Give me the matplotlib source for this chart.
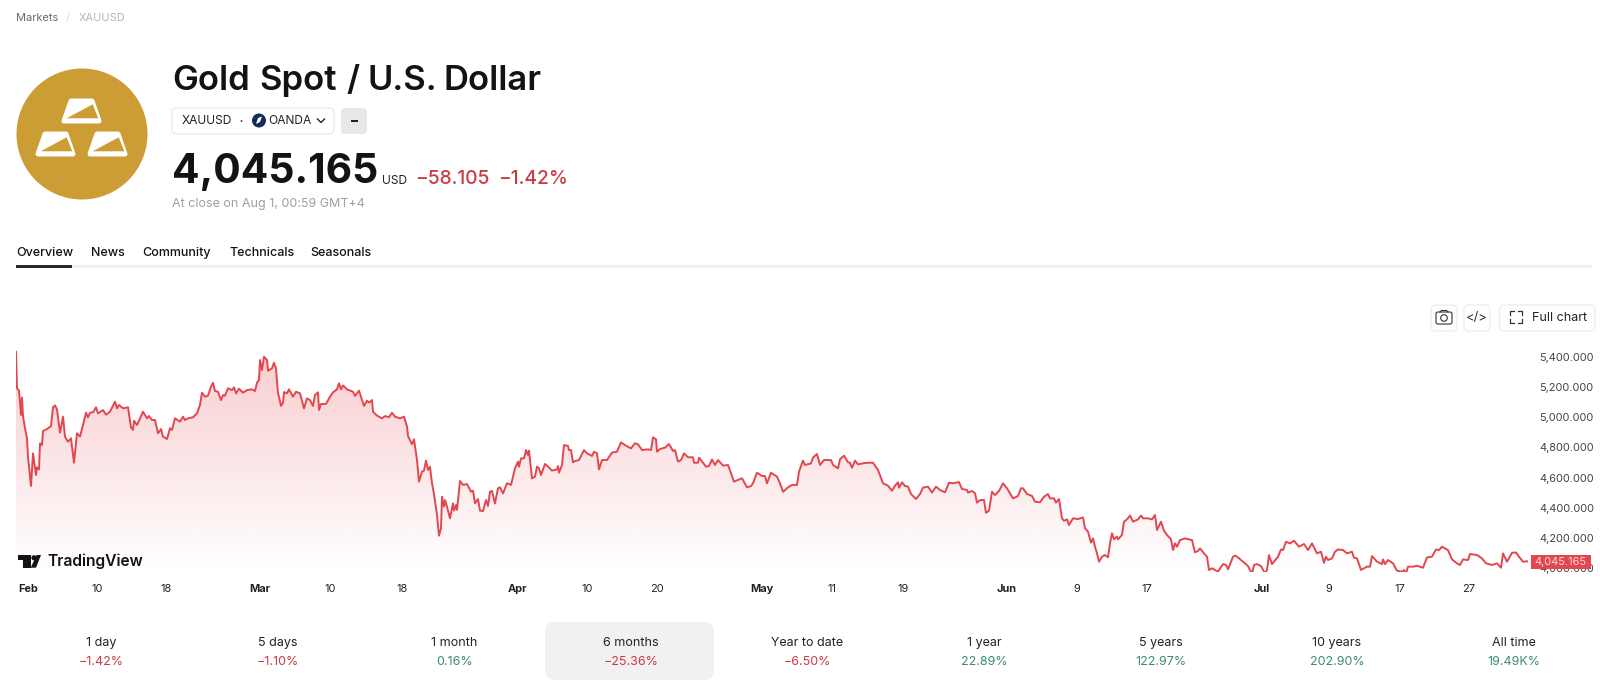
import numpy as np
import matplotlib
matplotlib.use("Agg")
import matplotlib.pyplot as plt
from matplotlib.patches import Circle, FancyBboxPatch, Polygon, Rectangle

plt.rcParams["font.family"] = ["Inter", "DejaVu Sans"]

# bars counted from the left edge of the chart, closing price in USD
bars = [
    0, 1, 3, 5, 6, 7, 9, 11, 12, 15, 17, 20, 21, 23, 24, 26, 27, 31, 35, 37,
    39, 41, 44, 47, 49, 52, 55, 58, 61, 64, 67, 70, 72, 74, 77, 80, 82, 87, 90, 94,
    99, 101, 103, 107, 112, 115, 117, 118, 121, 123, 127, 131, 133, 136, 139, 142, 145, 147, 151, 154,
    156, 159, 164, 167, 169, 172, 177, 181, 184, 186, 189, 192, 195, 197, 199, 202, 205, 207, 209, 212,
    216, 218, 220, 223, 227, 231, 236, 239, 241, 243, 244, 246, 248, 251, 252, 256, 258, 260, 262, 263,
    265, 267, 268, 271, 273, 277, 280, 284, 288, 291, 294, 297, 299, 302, 303, 305, 310, 314, 317, 321,
    323, 325, 327, 331, 337, 339, 343, 348, 351, 353, 356, 357, 361, 366, 369, 373, 376, 379, 384, 388,
    391, 392, 396, 398, 401, 403, 406, 408, 410, 412, 414, 416, 418, 421, 423, 425, 426, 428, 429, 431,
    434, 437, 438, 440, 441, 444, 447, 451, 455, 457, 459, 462, 464, 467, 470, 472, 474, 476, 479, 482,
    484, 487, 491, 495, 499, 502, 503, 505, 508, 510, 512, 513, 516, 519, 521, 523, 525, 529, 532, 536,
    541, 542, 543, 546, 548, 552, 553, 555, 557, 559, 563, 568, 571, 576, 578, 581, 583, 586, 591, 596,
    601, 605, 609, 615, 619, 622, 626, 632, 635, 637, 640, 641, 644, 649, 653, 657, 659, 662, 665, 668,
    672, 677, 678, 682, 683, 687, 690, 693, 696, 699, 702, 707, 712, 718, 726, 731, 735, 737, 741, 746,
    749, 751, 755, 761, 764, 767, 772, 776, 781, 783, 787, 789, 795, 797, 801, 804, 808, 815, 817, 822,
    824, 828, 832, 834, 836, 839, 842, 847, 852, 857, 862, 867, 872, 876, 879, 882, 883, 886, 889, 892,
    895, 900, 904, 907, 912, 916, 920, 924, 929, 933, 937, 943, 946, 951, 952, 956, 959, 961, 964, 968,
    970, 973, 976, 979, 983, 987, 991, 997, 1002, 1005, 1007, 1011, 1016, 1019, 1024, 1028, 1032, 1034, 1038, 1040,
    1043, 1046, 1048, 1051, 1053, 1057, 1062, 1067, 1069, 1072, 1075, 1077, 1079, 1081, 1083, 1086, 1089, 1092, 1094, 1096,
    1098, 1101, 1102, 1106, 1108, 1111, 1114, 1117, 1122, 1125, 1127, 1132, 1136, 1139, 1141, 1145, 1148, 1151, 1155, 1157,
    1159, 1161, 1164, 1169, 1176, 1179, 1182, 1184, 1188, 1191, 1193, 1196, 1199, 1202, 1207, 1210, 1212, 1217, 1219, 1221,
    1227, 1232, 1236, 1238, 1241, 1245, 1249, 1251, 1253, 1256, 1262, 1265, 1267, 1270, 1274, 1278, 1283, 1288, 1292, 1296,
    1301, 1305, 1308, 1310, 1312, 1316, 1319, 1322, 1327, 1331, 1336, 1338, 1341, 1345, 1351, 1354, 1356, 1361, 1366, 1367,
    1369, 1372, 1377, 1381, 1386, 1388, 1390, 1392, 1397, 1401, 1407, 1411, 1416, 1420, 1423, 1426, 1432, 1436, 1441, 1444,
    1447, 1452, 1454, 1461, 1466, 1470, 1476, 1481, 1485, 1487, 1491, 1496, 1500, 1503, 1507, 1511,
]
close = [
    5433, 5191, 5175, 5014, 5129, 5007, 4926, 4859, 4738, 4544, 4760, 4617, 4668, 4654, 4826, 4815, 4908, 4921, 4941, 5065,
    5078, 5051, 4897, 5003, 4871, 4837, 4860, 4698, 4893, 4871, 4948, 5029, 4999, 5029, 5032, 5065, 5025, 5047, 5016, 5036,
    5102, 5058, 5080, 5058, 5065, 4932, 4915, 4976, 4948, 4976, 5036, 4992, 5007, 4981, 4981, 4893, 4921, 4871, 4855, 4926,
    4915, 4992, 4970, 5003, 4981, 4992, 4999, 5025, 5080, 5162, 5135, 5142, 5202, 5228, 5173, 5168, 5113, 5146, 5142, 5191,
    5179, 5197, 5157, 5188, 5162, 5179, 5184, 5173, 5228, 5246, 5378, 5312, 5400, 5378, 5307, 5323, 5360, 5323, 5157, 5135,
    5074, 5096, 5166, 5157, 5184, 5135, 5168, 5157, 5058, 5124, 5113, 5074, 5146, 5164, 5047, 5087, 5087, 5135, 5164, 5184,
    5224, 5184, 5210, 5184, 5168, 5140, 5175, 5074, 5109, 5096, 5113, 5036, 5010, 4992, 5007, 4999, 5029, 5003, 4992, 5003,
    4937, 4875, 4820, 4853, 4716, 4573, 4639, 4646, 4712, 4650, 4672, 4562, 4491, 4352, 4215, 4264, 4473, 4407, 4451, 4407,
    4330, 4429, 4381, 4418, 4385, 4577, 4551, 4557, 4506, 4513, 4429, 4458, 4381, 4378, 4451, 4412, 4506, 4511, 4429, 4529,
    4535, 4495, 4562, 4551, 4661, 4705, 4672, 4727, 4727, 4782, 4749, 4778, 4595, 4606, 4672, 4661, 4617, 4690, 4672, 4646,
    4654, 4676, 4632, 4683, 4815, 4809, 4782, 4782, 4701, 4709, 4716, 4782, 4760, 4743, 4771, 4760, 4654, 4716, 4716, 4765,
    4771, 4833, 4815, 4793, 4827, 4820, 4782, 4787, 4782, 4866, 4853, 4771, 4789, 4798, 4822, 4776, 4782, 4705, 4716, 4760,
    4734, 4734, 4698, 4698, 4731, 4698, 4672, 4676, 4720, 4683, 4716, 4679, 4683, 4573, 4595, 4535, 4544, 4562, 4632, 4610,
    4610, 4562, 4632, 4606, 4562, 4506, 4535, 4551, 4551, 4639, 4712, 4683, 4694, 4732, 4756, 4683, 4716, 4716, 4683, 4661,
    4721, 4745, 4701, 4698, 4665, 4712, 4687, 4694, 4698, 4698, 4650, 4562, 4546, 4513, 4546, 4568, 4533, 4568, 4544, 4540,
    4491, 4458, 4491, 4533, 4540, 4500, 4540, 4517, 4502, 4566, 4562, 4570, 4524, 4518, 4500, 4511, 4496, 4434, 4451, 4451,
    4367, 4381, 4506, 4484, 4511, 4562, 4529, 4462, 4478, 4529, 4529, 4491, 4478, 4440, 4436, 4473, 4491, 4462, 4462, 4434,
    4458, 4330, 4314, 4323, 4286, 4330, 4325, 4336, 4264, 4242, 4169, 4197, 4142, 4098, 4043, 4076, 4087, 4072, 4164, 4231,
    4191, 4209, 4191, 4220, 4308, 4323, 4348, 4308, 4323, 4348, 4330, 4330, 4323, 4352, 4253, 4308, 4248, 4220, 4191, 4120,
    4164, 4142, 4186, 4197, 4186, 4105, 4114, 4131, 4098, 4076, 3988, 3999, 3988, 3977, 4027, 4021, 3992, 4076, 4083, 4076,
    4043, 4014, 3961, 4021, 4027, 4014, 3966, 3988, 4087, 4027, 4076, 4124, 4120, 4175, 4164, 4182, 4142, 4160, 4120, 4164,
    4098, 4109, 4036, 4076, 4054, 4065, 4109, 4124, 4120, 4098, 4109, 4069, 4065, 3988, 4010, 4010, 4080, 4043, 4027, 4058,
    4027, 4054, 4032, 3983, 3977, 3988, 3966, 4010, 4010, 4016, 4003, 4071, 4076, 4124, 4120, 4142, 4120, 4058, 4032, 4021,
    4058, 4054, 4094, 4087, 4065, 4032, 4021, 4032, 4003, 4098, 4043, 4102, 4104, 4076, 4043, 4045.165,
]

y_ticks = [5400, 5200, 5000, 4800, 4600, 4400, 4200, 4000]
x_tick_bars = [12, 81, 150, 244, 314, 386, 501, 571, 641, 746, 816, 887, 991, 1061, 1131, 1246, 1313, 1384, 1453]
x_tick_labels = ["Feb", "10", "18", "Mar", "10", "18", "Apr", "10", "20", "May", "11", "19", "Jun", "9", "17", "Jul", "9", "17", "27"]
months = ["Feb", "Mar", "Apr", "May", "Jun", "Jul"]

title_words = ["Gold", "Spot", "/", "U.S.", "Dollar"]
title_x = [172, 259, 346, 367, 443]

tabs = ["Overview", "News", "Community", "Technicals", "Seasonals"]
tab_x = [16, 91, 142, 229, 310.5]

periods = ["1 day", "5 days", "1 month", "6 months", "Year to date", "1 year", "5 years", "10 years", "All time"]
period_changes = ["\u22121.42%", "\u22121.10%", "0.16%", "\u221225.36%", "\u22126.50%", "22.89%", "122.97%", "202.90%", "19.49K%"]

RED = "#E2474F"
TEXT_RED = "#C93B45"
GREEN = "#3F8B72"
DARK = "#131313"

fig = plt.figure(figsize=(16, 6.83), dpi=100)
W, H = 1600, 683


def px(v):
    # css pixels to points
    return v * 0.72


# price chart
ax = fig.add_axes([16 / W, 1 - 572 / H, 1515 / W, 232 / H])
ax.set_xlim(0, 1515)
ax.set_ylim(3974.7, 5510.6)
for s in ax.spines.values():
    s.set_visible(False)

area = ax.fill_between(bars, close, ax.get_ylim()[0], color="none")
grad = np.zeros((256, 1, 4))
grad[:, 0, :3] = matplotlib.colors.to_rgb("#E8434C")
grad[:, 0, 3] = np.linspace(0.27, 0.0, 256)
img = ax.imshow(grad, extent=(0, 1515, ax.get_ylim()[0], 5440), aspect="auto", origin="upper", zorder=1)
img.set_clip_path(area.get_paths()[0], transform=ax.transData)
ax.set_xlim(0, 1515)
ax.set_ylim(3974.7, 5510.6)
ax.plot(bars, close, color=RED, lw=1.4, zorder=2, solid_joinstyle="round")

ax.yaxis.tick_right()
ax.set_yticks(y_ticks)
ax.set_yticklabels([f"{v:,.3f}" for v in y_ticks], fontsize=px(11), color="#444444")
ax.tick_params(axis="y", length=0, pad=5.8)
ax.set_xticks(x_tick_bars)
ax.set_xticklabels(x_tick_labels, fontsize=px(11), color="#222222")
ax.tick_params(axis="x", length=0, pad=9)
for lab in ax.get_xticklabels():
    if lab.get_text() in months:
        lab.set_fontweight("bold")

# everything around the chart, in pixel coordinates
ui = fig.add_axes([0, 0, 1, 1], zorder=5)
ui.set_xlim(0, W)
ui.set_ylim(H, 0)
ui.axis("off")
ui.patch.set_alpha(0)


def label(x, y, s, size, color=DARK, weight="normal", ha="left"):
    return ui.text(x, y, s, fontsize=px(size), color=color, fontweight=weight, ha=ha, va="center")


def box(x0, y0, x1, y1, r, fc, ec="none", lw=1):
    ui.add_patch(FancyBboxPatch((x0 + r, y0 + r), x1 - x0 - 2 * r, y1 - y0 - 2 * r,
                                boxstyle=f"round,pad={r},rounding_size={r}", fc=fc, ec=ec, lw=lw))


# breadcrumbs
label(16, 18, "Markets", 11, "#6A6A6A")
label(66, 18, "/", 11, "#DDDDDD")
label(79, 18, "XAUUSD", 11, "#B5B5B5")

# gold logo
GOLD = "#CC9C35"
ui.add_patch(Circle((82, 134), 65.5, fc=GOLD, ec="none"))
for ox, oy in [(61, 98), (35, 131), (87, 131)]:
    ui.add_patch(Polygon([(ox + 10, oy + 3), (ox + 31, oy + 3), (ox + 38, oy + 23), (ox + 3, oy + 23)],
                         closed=True, fc="white", ec="white", lw=3.6, joinstyle="round"))
    ui.add_patch(Polygon([(ox + 5.7, oy + 20.3), (ox + 31.7, oy + 6.3), (ox + 37.3, oy + 20.3)],
                         closed=True, fc=GOLD, ec="none"))

# header
for x, word in zip(title_x, title_words):
    label(x, 81, word, 34.6, DARK, "semibold")
box(172, 108, 334, 134, 5, "white", "#EBEBEB")
label(182, 121, "XAUUSD", 12, "#222222")
ui.add_patch(Circle((241.5, 121), 1, fc="#555555", ec="none"))
ui.add_patch(Circle((259, 120.5), 7, fc="#14295C", ec="none"))
ui.add_patch(Polygon([(256, 124), (258, 118), (262, 116.5), (260, 122)], closed=True, fc="white", ec="none"))
label(268.5, 121, "OANDA", 12, "#222222")
ui.plot([317.5, 321, 324.5], [119, 122.5, 119], color="#222222", lw=1)
box(341, 108, 367, 134, 4, "#E8E8E8")
ui.add_patch(Rectangle((351, 119.5), 6.5, 2.5, fc="#222222", ec="none"))

label(172, 172, "4,045.165", 40.8, DARK, "bold")
label(382, 181, "USD", 12, "#222222")
label(415, 179, "\u221258.105", 19.2, TEXT_RED, "medium")
label(498, 179, "\u22121.42%", 19.2, TEXT_RED, "medium")
label(172, 204, "At close on Aug 1, 00:59 GMT+4", 12.5, "#A0A0A0")

# tabs
for x, t in zip(tab_x, tabs):
    label(x, 253, t, 12.5, DARK, "medium")
ui.add_patch(Rectangle((16, 264.5), 1576, 3, fc="#F0F0F0", ec="none"))
ui.add_patch(Rectangle((16, 264.5), 56, 3, fc="#2A2A2A", ec="none"))

# chart buttons
box(1431, 305, 1457, 331, 5, "white", "#EEEEEE")
box(1464, 305, 1490, 331, 5, "white", "#EEEEEE")
box(1499.5, 305, 1595, 331, 5, "white", "#EEEEEE")
box(1436, 312, 1452, 324, 2, "white", "#333333", 0.8)
ui.add_patch(Circle((1444, 318), 3.3, fc="white", ec="#333333", lw=0.8))
ui.plot([1440, 1441.5, 1446.5, 1448], [312, 310.5, 310.5, 312], color="#333333", lw=0.8)
label(1477, 317.5, "</>", 13, "#333333", ha="center")
for cx, cy, dx, dy in [(1510, 311, 1, 1), (1522, 311, -1, 1), (1510, 323, 1, -1), (1522, 323, -1, -1)]:
    ui.plot([cx + 4 * dx, cx, cx], [cy, cy, cy + 4 * dy], color="#333333", lw=0.9)
label(1532, 318, "Full chart", 12.5, "#222222")

# last price badge
ui.add_patch(Rectangle((1531, 555), 60, 13.5, fc=RED, ec="none"))
ui.text(1586, 561.8, f"{close[-1]:,.3f}", fontsize=px(11), color="#F8DADC", ha="right", va="center")

# tradingview mark
ui.add_patch(Rectangle((18.3, 555), 12.4, 5, fc=DARK, ec="none"))
ui.add_patch(Rectangle((23.3, 555), 7.4, 12.7, fc=DARK, ec="none"))
ui.add_patch(Circle((34, 557.8), 2.6, fc=DARK, ec="none"))
ui.add_patch(Polygon([(36.7, 555), (41, 555), (36, 567.7), (30.7, 567.7)], closed=True, fc=DARK, ec="none"))
label(47.5, 561.5, "TradingView", 15.6, DARK, "semibold")

# period strip
box(545, 622, 714, 680, 10, "#F1F1F1")
for i, (p, c) in enumerate(zip(periods, period_changes)):
    cx = 101.5 + i * 176.5
    label(cx, 643, p, 12.5, "#222222", ha="center")
    label(cx, 662, c, 12.5, TEXT_RED if c.startswith("\u2212") else GREEN, ha="center")

fig.savefig("out.png", dpi=100)
